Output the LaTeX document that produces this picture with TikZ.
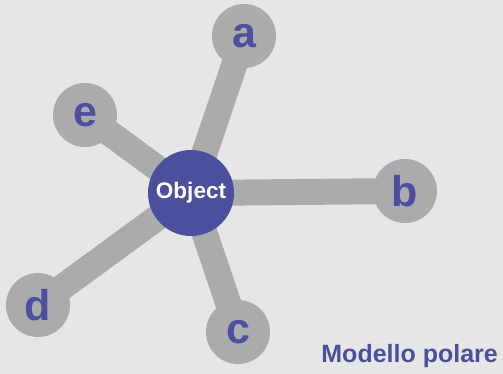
\documentclass[tikz,border=0pt]{standalone}
\usepackage{fontspec}
\setmainfont{Liberation Sans}
\usetikzlibrary{backgrounds}
\pgfdeclarelayer{canvas}
\pgfsetlayers{canvas,background,main}
\definecolor{bg}{HTML}{E6E6E6}
\definecolor{spoke}{HTML}{ABABAB}
\definecolor{hub}{HTML}{4A4F9E}
\tikzset{
  leaf/.style={circle, fill=spoke, minimum size=64pt, inner sep=0pt,
    text=hub, font=\fontsize{43}{43}\selectfont\bfseries},
  hubnode/.style={circle, fill=hub, minimum size=86pt, inner sep=0pt,
    text=white, font=\fontsize{22.5}{22.5}\selectfont\bfseries},
  arm/.style={draw=spoke, line width=26pt},
}
\begin{document}
\begin{tikzpicture}[x=1pt, y=-1pt]
  \begin{pgfonlayer}{canvas}
    \fill[bg] (0,0) rectangle (503,374);
  \end{pgfonlayer}
  \useasboundingbox (0,0) rectangle (503,374);
  % hub and outer nodes
  \node[hubnode] (obj) at (191,193) {Object};
  \node[leaf] (a) at (244,36) {a};
  \node[leaf] (b) at (405,191) {b};
  \node[leaf] (c) at (238,332) {c};
  \node[leaf] (d) at (38,305) {d};
  \node[leaf] (e) at (85,115) {e};
  % spokes behind the circles
  \begin{scope}[on background layer]
    \foreach \n in {a,b,c,d,e} \draw[arm] (obj.center) -- (\n.center);
  \end{scope}
  \node[anchor=base east, text=hub, font=\fontsize{25}{25}\selectfont\bfseries, inner sep=0pt]
    (title) at (498,362) {Modello polare};
\end{tikzpicture}
\end{document}
